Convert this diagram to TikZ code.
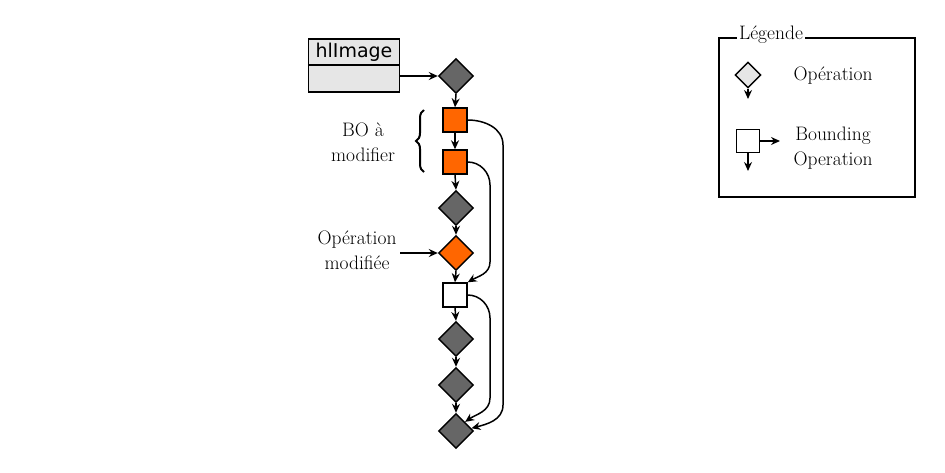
\documentclass[tikz,border=0pt]{standalone}
\usepackage{fontspec}
\newfontfamily\dv{DejaVu Sans}
\usetikzlibrary{shapes.geometric,arrows.meta,decorations.pathreplacing}
\definecolor{orng}{HTML}{FF6600}
\definecolor{dgray}{HTML}{666666}
\definecolor{lgray}{HTML}{E6E6E6}
\begin{document}
\begin{tikzpicture}[x=1pt,y=-1pt,
  op/.style={diamond,draw=black,line width=1.4pt,minimum size=35pt,inner sep=0pt,fill=dgray},
  bo/.style={rectangle,draw=black,line width=1.4pt,minimum size=24pt,inner sep=0pt},
  arr/.style={-{Stealth[length=9pt,width=8pt,inset=3pt]},line width=1.5pt},
  lbl/.style={align=center,font=\fontsize{19.5}{25}\selectfont}]
\useasboundingbox (0,0) rectangle (945,472);
% class box
\node[rectangle,draw=black,line width=1.4pt,fill=lgray,minimum width=91pt,minimum height=53pt,inner sep=0pt] (cls) at (354,65.5) {};
\node[font=\dv\fontsize{19}{22}\selectfont] (clsname) at (354,52) {hlImage};
\draw[line width=1.4pt] (cls.west |- 0,65) coordinate (dl) -- (cls.east |- 0,65) coordinate (dr);
% column
\node[op] (d1) at (456,76) {};
\node[bo,fill=orng] (s1) at (455,120) {};
\node[bo,fill=orng] (s2) at (455,162) {};
\node[op] (d2) at (456,208) {};
\node[op,fill=orng] (d3) at (456,253) {};
\node[bo,fill=white] (s3) at (455,295) {};
\node[op] (d4) at (456,339) {};
\node[op] (d5) at (456,385) {};
\node[op] (d6) at (456,431) {};
\draw[arr] (cls.east |- d1) -- (d1.west);
\draw[arr] (d1.south) -- (s1.north);
\draw[arr] (s1.south) -- (s2.north);
\draw[arr] (s2.south) -- (d2.north);
\draw[arr] (d2.south) -- (d3.north);
\draw[arr] (d3.south) -- (s3.north);
\draw[arr] (s3.south) -- (d4.north);
\draw[arr] (d4.south) -- (d5.north);
\draw[arr] (d5.south) -- (d6.north);
% bypass curves
\coordinate (a1) at (503,145);
\coordinate (a2) at (503,405);
\draw[arr] (s1.east) to[out=0,in=90] (a1) -- (a2) to[out=-90,in=15] (d6.10);
\coordinate (b1) at (490,185);
\coordinate (b2) at (490,262);
\draw[arr] (s2.east) to[out=0,in=90] (b1) -- (b2) to[out=-90,in=30] (s3.north east);
\coordinate (c1) at (490,318);
\coordinate (c2) at (490,398);
\draw[arr] (s3.east) to[out=0,in=90] (c1) -- (c2) to[out=-90,in=35] (d6.north east);
% labels
\node[lbl] (bolbl) at (363,142) {BO à\\modifier};
\coordinate (br1) at (424,110);
\coordinate (br2) at (424,172);
\draw[decorate,decoration={brace,amplitude=8pt,aspect=0.5},line width=2pt] (br2) -- (br1);
\node[lbl] (oplbl) at (357,250) {Opération\\modifiée};
\coordinate (oa) at (400,253);
\draw[arr] (oa) -- (d3.west);
% legend
\node[rectangle,draw=black,line width=1.4pt,minimum width=196pt,minimum height=159pt,inner sep=0pt] (leg) at (817,117.5) {};
\node[fill=white,inner sep=2pt,font=\fontsize{19.5}{22}\selectfont] (legt) at (771,35) {Légende};
\node[diamond,draw=black,line width=1.4pt,minimum size=26pt,inner sep=0pt,fill=lgray] (ld) at (748,75) {};
\coordinate (ldend) at (748,99);
\draw[arr] (ld.south) -- (ldend);
\node[lbl] (ldt) at (833,76) {Opération};
\node[bo,minimum size=23pt,fill=white] (ls) at (748,141) {};
\coordinate (lsr) at (780,141);
\coordinate (lsd) at (748,171);
\draw[arr] (ls.east) -- (lsr);
\draw[arr] (ls.south) -- (lsd);
\node[lbl] (lst) at (833,148) {Bounding\\Operation};
\end{tikzpicture}
\end{document}
